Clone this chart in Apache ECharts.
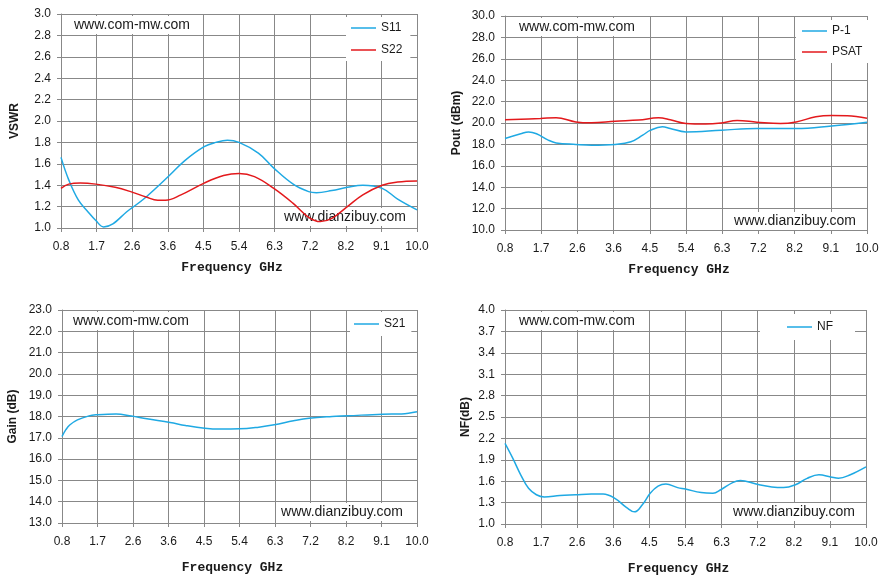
<!DOCTYPE html>
<html>
<head>
<meta charset="utf-8">
<title>Amplifier test curves</title>
<script src="https://cdn.jsdelivr.net/npm/echarts@6.0.0/dist/echarts.min.js"></script>
<style>
  html, body { margin: 0; padding: 0; background: #fff; }
  #main { width: 890px; height: 582px; }
</style>
</head>
<body>
<div id="main"></div>
<script>
// x axis ticks (GHz): 0.8 .. 10.0, step 0.92
var freqMin = 0.8;
var freqMax = 10.0;
var freqStep = 0.92;

// VSWR
var s11Freq = [0.8, 1.0, 1.25, 1.5, 1.7, 1.9, 2.6, 3.0, 3.6, 4.0, 4.5, 4.8, 5.1, 5.4, 5.9, 6.3, 6.8, 7.2, 7.4, 7.8, 8.2, 8.6, 9.1, 9.5, 10.0];
var s11 = [1.66, 1.45, 1.26, 1.15, 1.07, 1.01, 1.18, 1.29, 1.49, 1.63, 1.76, 1.80, 1.82, 1.80, 1.70, 1.56, 1.41, 1.34, 1.33, 1.35, 1.38, 1.40, 1.37, 1.27, 1.17];
var s22Freq = [0.8, 1.0, 1.3, 1.7, 2.2, 2.6, 3.0, 3.3, 3.5, 3.9, 4.5, 5.0, 5.4, 5.8, 6.3, 6.8, 7.2, 7.5, 7.8, 8.2, 8.6, 9.1, 9.5, 10.0];
var s22 = [1.37, 1.41, 1.42, 1.41, 1.38, 1.34, 1.29, 1.26, 1.26, 1.31, 1.42, 1.49, 1.51, 1.48, 1.37, 1.23, 1.10, 1.06, 1.09, 1.20, 1.31, 1.40, 1.43, 1.44];

// Pout (dBm)
var p1Freq = [0.8, 1.2, 1.4, 1.6, 1.9, 2.1, 2.6, 3.0, 3.6, 4.0, 4.3, 4.5, 4.8, 5.0, 5.4, 6.3, 7.2, 8.2, 9.1, 10.0];
var p1 = [18.55, 19.0, 19.17, 19.0, 18.4, 18.14, 18.0, 17.93, 18.0, 18.24, 18.86, 19.33, 19.64, 19.49, 19.17, 19.33, 19.49, 19.49, 19.73, 20.08];
var psatFreq = [0.8, 1.7, 2.1, 2.6, 3.0, 3.6, 4.2, 4.7, 5.0, 5.4, 5.9, 6.3, 6.7, 7.2, 7.8, 8.2, 8.7, 9.1, 9.5, 10.0];
var psat = [20.3, 20.42, 20.5, 20.1, 20.02, 20.17, 20.27, 20.48, 20.3, 19.95, 19.9, 20.0, 20.23, 20.08, 19.95, 20.1, 20.58, 20.7, 20.67, 20.45];

// Gain (dB)
var s21Freq = [0.8, 0.9, 1.0, 1.2, 1.5, 1.7, 2.2, 2.6, 3.0, 3.6, 4.0, 4.5, 4.9, 5.4, 5.9, 6.3, 6.8, 7.2, 7.8, 8.2, 9.1, 9.6, 10.0];
var s21 = [17.06, 17.38, 17.6, 17.84, 18.03, 18.08, 18.12, 18.02, 17.89, 17.72, 17.58, 17.45, 17.41, 17.42, 17.5, 17.61, 17.8, 17.92, 18.0, 18.03, 18.11, 18.12, 18.22];

// NF (dB)
var nfFreq = [0.8, 1.0, 1.2, 1.4, 1.6, 1.8, 2.2, 2.6, 3.0, 3.3, 3.6, 3.9, 4.1, 4.3, 4.5, 4.7, 4.9, 5.2, 5.4, 5.8, 6.1, 6.3, 6.6, 6.8, 7.2, 7.6, 7.9, 8.2, 8.5, 8.8, 9.1, 9.3, 9.6, 10.0];
var nf = [2.13, 1.92, 1.69, 1.50, 1.41, 1.38, 1.40, 1.41, 1.42, 1.42, 1.36, 1.23, 1.17, 1.27, 1.43, 1.53, 1.56, 1.51, 1.49, 1.44, 1.43, 1.48, 1.58, 1.61, 1.56, 1.52, 1.51, 1.55, 1.64, 1.69, 1.66, 1.64, 1.69, 1.80];

var blue = '#1fa9e3';
var red = '#e3191c';
var gridColor = '#888888';
var textColor = '#1a1a1a';
var labelFont = 'Liberation Sans, Arial, sans-serif';

function pairs(xs, ys) {
  return xs.map(function (x, i) { return [x, ys[i]]; });
}

// plot boxes
var boxes = [
  { left: 61, top: 14, width: 356, height: 214 },
  { left: 505, top: 16, width: 362, height: 214 },
  { left: 62, top: 310, width: 355, height: 213 },
  { left: 505, top: 310, width: 361, height: 214 }
];

function xAxisFor(i, gap) {
  return {
    type: 'value', gridIndex: i,
    min: freqMin, max: freqMax, interval: freqStep,
    name: 'Frequency GHz', nameLocation: 'middle', nameGap: gap,
    nameTextStyle: { fontFamily: 'Liberation Mono, monospace', fontWeight: 'bold', fontSize: 13, color: textColor, padding: [0, 14, 0, 0] },
    axisLine: { show: true, lineStyle: { color: gridColor, width: 1 } },
    axisTick: { show: true, length: 4, lineStyle: { color: gridColor } },
    splitLine: { show: true, lineStyle: { color: gridColor, width: 1 } },
    axisLabel: { margin: 13, fontSize: 12, fontFamily: labelFont, color: textColor,
      formatter: function (v) { return v.toFixed(1); } }
  };
}

function yAxisFor(i, name, min, max, step, gap) {
  return {
    type: 'value', gridIndex: i,
    min: min, max: max, interval: step,
    name: name, nameLocation: 'middle', nameGap: gap,
    nameTextStyle: { fontFamily: labelFont, fontWeight: 'bold', fontSize: 12, color: textColor },
    axisLine: { show: true, lineStyle: { color: gridColor, width: 1 } },
    axisTick: { show: true, length: 4, lineStyle: { color: gridColor } },
    splitLine: { show: true, lineStyle: { color: gridColor, width: 1 } },
    axisLabel: { margin: 10, fontSize: 12, fontFamily: labelFont, color: textColor,
      formatter: function (v) { return v.toFixed(1); } }
  };
}

function lineSeries(name, i, data, color) {
  return {
    name: name, type: 'line', xAxisIndex: i, yAxisIndex: i,
    data: data, smooth: 0.4, showSymbol: false, symbol: 'none',
    lineStyle: { color: color, width: 1.5 }, itemStyle: { color: color },
    z: 3
  };
}

function legendFor(names, left, top, padding, gap) {
  return {
    data: names, orient: 'vertical', left: left, top: top,
    backgroundColor: '#fff', padding: padding,
    icon: 'rect', itemWidth: 25, itemHeight: 1.5, itemGap: gap, itemTextGap: 3,
    textStyle: { fontFamily: labelFont, fontSize: 12, color: textColor }
  };
}

// watermark labels, white box under the curves but over the grid
function mark(text, x, y, align) {
  return {
    type: 'text', z: 1, x: x, y: y,
    style: {
      text: text, fill: textColor, font: '14px ' + labelFont,
      align: align, verticalAlign: 'middle',
      backgroundColor: '#fff', padding: [2, 2]
    }
  };
}

var chart = echarts.init(document.getElementById('main'), null, { renderer: 'canvas' });

chart.setOption({
  animation: false,
  backgroundColor: '#fff',
  grid: boxes.map(function (b) {
    return { left: b.left, top: b.top, width: b.width, height: b.height, containLabel: false };
  }),
  xAxis: [xAxisFor(0, 33), xAxisFor(1, 33), xAxisFor(2, 38), xAxisFor(3, 38)],
  yAxis: [
    yAxisFor(0, 'VSWR', 1.0, 3.0, 0.2, 40),
    yAxisFor(1, 'Pout (dBm)', 10, 30, 2, 42),
    yAxisFor(2, 'Gain (dB)', 13, 23, 1, 43),
    yAxisFor(3, 'NF(dB)', 1.0, 4.0, 0.3, 33)
  ],
  legend: [
    legendFor(['S11', 'S22'], 346, 17, [5, 8, 5, 5], 10),
    legendFor(['P-1', 'PSAT'], 796, 20, [5, 10, 5, 6], 9),
    legendFor(['S21'], 350, 312, [6, 6, 6, 4], 10),
    legendFor(['NF'], 760, 314, [7, 22, 7, 27], 10)
  ],
  graphic: [
    mark('www.com-mw.com', 72, 25, 'left'),
    mark('www.dianzibuy.com', 408, 217, 'right'),
    mark('www.com-mw.com', 517, 27, 'left'),
    mark('www.dianzibuy.com', 858, 221, 'right'),
    mark('www.com-mw.com', 71, 321, 'left'),
    mark('www.dianzibuy.com', 405, 512, 'right'),
    mark('www.com-mw.com', 517, 321, 'left'),
    mark('www.dianzibuy.com', 857, 512, 'right')
  ],
  series: [
    lineSeries('S11', 0, pairs(s11Freq, s11), blue),
    lineSeries('S22', 0, pairs(s22Freq, s22), red),
    lineSeries('P-1', 1, pairs(p1Freq, p1), blue),
    lineSeries('PSAT', 1, pairs(psatFreq, psat), red),
    lineSeries('S21', 2, pairs(s21Freq, s21), blue),
    lineSeries('NF', 3, pairs(nfFreq, nf), blue)
  ]
});
</script>
</body>
</html>
